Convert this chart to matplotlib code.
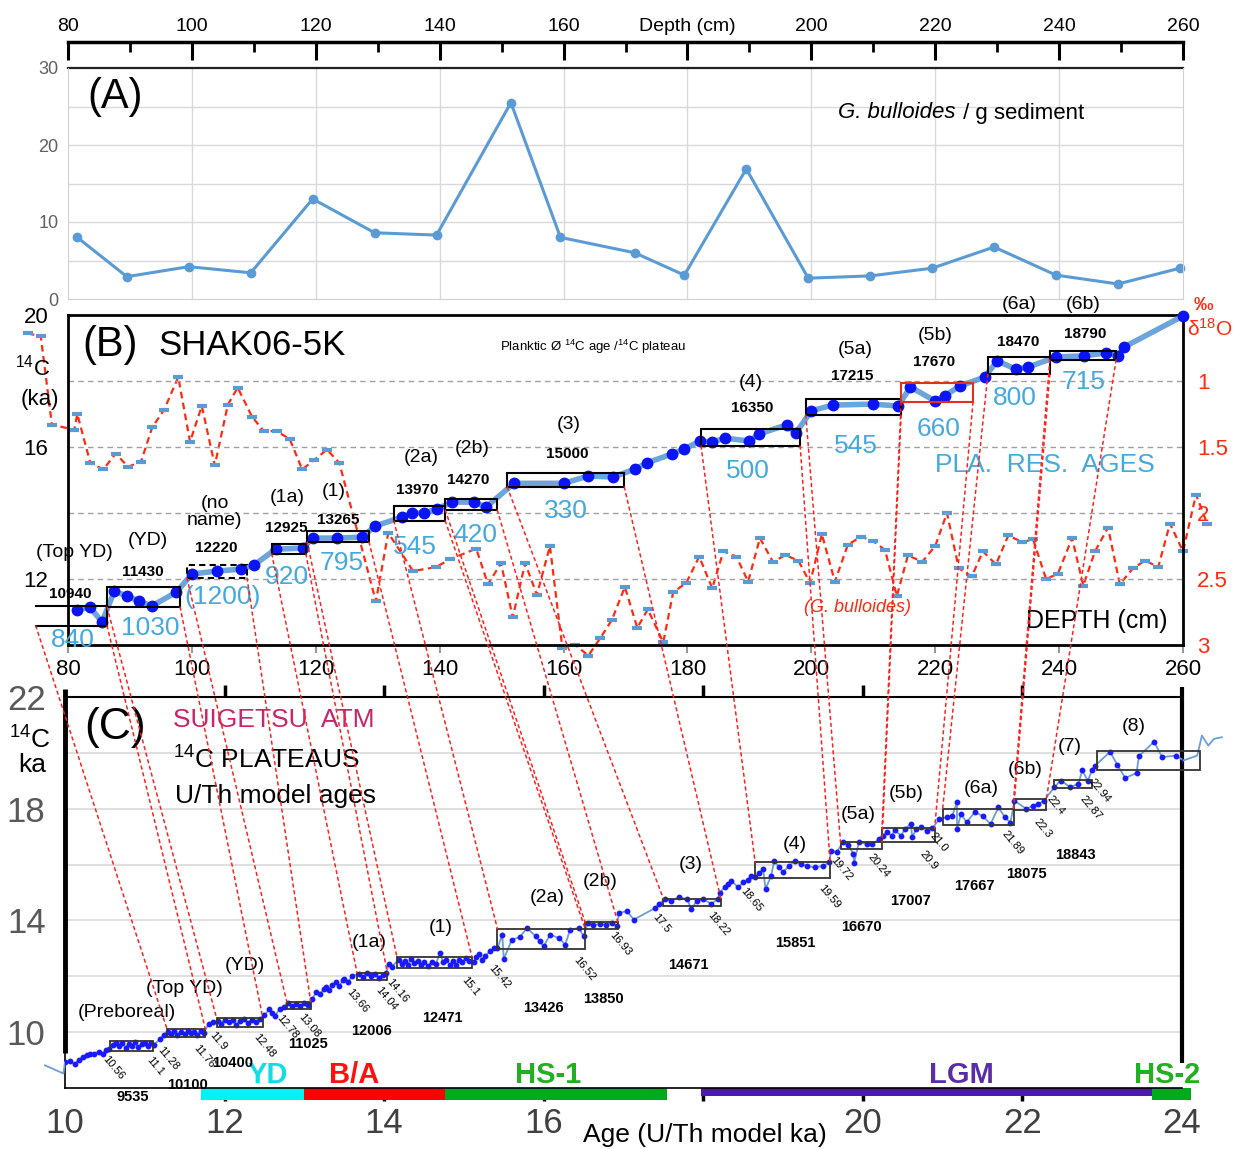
import matplotlib
matplotlib.use('Agg')
import matplotlib.pyplot as plt
from matplotlib.patches import Rectangle, ConnectionPatch
from matplotlib import font_manager

# ---------------- DATA ----------------
# Panel A: G. bulloides / g sediment vs depth
a_depth = [81.5, 89.5, 99.5, 109.5, 119.5, 129.5, 139.5, 151.5, 159.5, 171.5,
           179.5, 189.5, 199.5, 209.5, 219.5, 229.5, 239.5, 249.5, 259.5]
a_count = [8.0, 2.9, 4.2, 3.4, 13.0, 8.6, 8.3, 25.5, 8.0, 6.0,
           3.1, 16.9, 2.7, 3.0, 4.0, 6.75, 3.1, 1.95, 4.0]

# Panel B: planktic 14C ages (ka) vs depth (cm)
planktic_depth = [81.5, 83.5, 85.5, 87.5, 89.5, 91.5, 93.5, 97.5,
                  100.0, 104.0, 108.0, 110.0,
                  113.5, 118.0, 119.5, 123.5, 127.5, 129.5,
                  134.0, 135.5, 137.5, 139.5, 142.0, 145.5, 147.5,
                  152.0, 160.0, 164.0, 168.0, 171.5, 173.5, 177.5, 179.5,
                  182.0, 184.0, 186.0, 190.0, 191.5, 196.0, 197.5,
                  200.0, 203.5, 210.0, 214.0, 216.0, 220.0, 221.5, 224.0,
                  228.0, 230.0, 233.0, 235.0, 239.5, 244.0, 247.5, 249.5, 250.5, 260.0]
planktic_c14 = [11.06, 11.15, 10.70, 11.64, 11.48, 11.33, 11.18, 11.60,
                12.15, 12.24, 12.30, 12.42,
                12.90, 12.94, 13.24, 13.24, 13.27, 13.60,
                13.88, 14.00, 14.00, 14.12, 14.33, 14.33, 14.18,
                14.90, 14.90, 15.12, 15.09, 15.33, 15.52, 15.79, 15.94,
                16.18, 16.15, 16.27, 16.18, 16.39, 16.67, 16.42,
                17.10, 17.27, 17.30, 17.24, 17.82, 17.39, 17.55, 17.85,
                18.12, 18.61, 18.36, 18.42, 18.73, 18.76, 18.85, 18.76, 19.03, 19.97]

# Panel B: d18O (G. bulloides, permil) vs depth
d18_depth = [73.5, 75.6, 77.4, 81.0, 81.5, 83.6, 85.7, 87.7, 89.7, 91.8,
             93.6, 95.5, 97.8, 99.7, 101.6, 103.7, 105.8, 107.4, 109.7, 111.6,
             113.7, 115.8, 117.8, 119.7, 121.8, 123.8, 129.7, 131.7, 135.7, 139.4,
             141.7, 145.9, 147.8, 149.9, 151.8, 153.8, 155.7, 157.8, 159.8, 161.9,
             164.0, 165.9, 167.8, 169.9, 171.9, 173.6, 176.1, 177.7, 179.8, 181.9,
             184.0, 185.8, 187.9, 189.8, 191.7, 193.8, 195.8, 197.9, 199.8, 201.7,
             203.8, 205.9, 208.0, 209.9, 211.9, 213.8, 215.6, 217.9, 220.0, 221.9,
             223.8, 225.9, 227.7, 229.8, 231.8, 234.0, 235.8, 237.9, 239.8, 242.1,
             243.9, 245.8, 247.9, 249.8, 251.9, 253.9, 256.0, 257.9, 260.0, 262.1,
             263.9]
d18_val = [0.64, 0.66, 1.33, 1.37, 1.25, 1.62, 1.67, 1.55, 1.65, 1.61,
           1.35, 1.22, 0.97, 1.46, 1.19, 1.64, 1.18, 1.05, 1.27, 1.38,
           1.38, 1.44, 1.67, 1.60, 1.52, 1.62, 2.67, 2.15, 2.44, 2.41,
           2.35, 2.27, 2.54, 2.38, 2.79, 2.38, 2.62, 2.25, 3.02, 3.00,
           3.08, 2.95, 2.81, 2.56, 2.87, 2.73, 2.98, 2.60, 2.53, 2.33,
           2.57, 2.29, 2.33, 2.52, 2.19, 2.37, 2.32, 2.36, 2.53, 2.16,
           2.52, 2.24, 2.18, 2.21, 2.28, 2.63, 2.32, 2.37, 2.25, 2.00,
           2.42, 2.48, 2.29, 2.39, 2.17, 2.22, 2.20, 2.50, 2.46, 2.19,
           2.55, 2.29, 2.11, 2.54, 2.42, 2.36, 2.41, 2.08, 2.29, 1.86,
           2.08]

# Panel B plateau boxes (depth range, 14C range)
bbox_names = ['(Top YD)', '(YD)', '(no\nname)', '(1a)', '(1)', '(2a)', '(2b)', '(3)', '(4)',
              '(5a)', '(5b)', '(6a)', '(6b)']
bbox_ages = ['10940', '11430', '12220', '12925', '13265', '13970', '14270', '15000', '16350',
             '17215', '17670', '18470', '18790']
bbox_res = ['840', '1030', '(1200)', '920', '795', '545', '420', '330', '500',
            '545', '660', '800', '715']
bbox_d0 = [74.8, 86.3, 99.2, 112.9, 118.6, 132.6, 140.9, 150.9, 182.2, 199.1, 214.5, 228.5, 238.5]
bbox_d1 = [86.3, 98.1, 108.9, 118.4, 128.6, 140.9, 149.3, 169.8, 198.2, 214.5, 226.1, 238.5, 249.2]
bbox_lo = [10.58, 11.15, 12.03, 12.76, 13.12, 13.76, 14.09, 14.79, 16.03, 16.97, 17.36, 18.21, 18.64]
bbox_hi = [11.18, 11.76, 12.42, 13.06, 13.45, 14.20, 14.42, 15.21, 16.55, 17.45, 17.94, 18.73, 18.91]

# Panel C: Suigetsu atmospheric 14C (ka) vs U/Th model age (ka)
suig_age = [9.75, 9.98, 10.00, 10.06, 10.12, 10.18, 10.23, 10.27, 10.31, 10.36, 10.42, 10.48, 10.52, 10.55,
            10.60, 10.64, 10.68, 10.72, 10.76, 10.80, 10.84, 10.88, 10.92, 10.96, 11.00, 11.04, 11.08, 11.12,
            11.19, 11.24,
            11.29, 11.33, 11.37, 11.41, 11.45, 11.50, 11.54, 11.58, 11.62, 11.66, 11.70, 11.74,
            11.80, 11.86,
            11.92, 11.96, 12.00, 12.05, 12.10, 12.14, 12.19, 12.24, 12.29, 12.34, 12.39, 12.44,
            12.50, 12.56, 12.60, 12.63, 12.69, 12.74,
            12.80, 12.85, 12.90, 12.95, 13.00, 13.05,
            13.10, 13.15, 13.20, 13.24, 13.27, 13.31, 13.35, 13.40, 13.44, 13.48, 13.50, 13.55, 13.60,
            13.68, 13.73, 13.78, 13.83, 13.88, 13.93, 13.98, 14.02,
            14.06, 14.10,
            14.18, 14.22, 14.26, 14.30, 14.34, 14.38, 14.42, 14.46, 14.50, 14.55, 14.60, 14.65, 14.70,
            14.74, 14.78, 14.82, 14.86, 14.90, 14.94, 14.98, 15.02, 15.06,
            15.12, 15.15, 15.19, 15.23, 15.27, 15.33, 15.38,
            15.42, 15.48, 15.50, 15.60, 15.70, 15.79, 15.90, 15.95, 16.00, 16.08, 16.19, 16.27, 16.33, 16.44, 16.50,
            16.55, 16.62, 16.70, 16.78, 16.86, 16.92,
            16.94, 17.04, 17.13, 17.40, 17.45,
            17.52, 17.60, 17.70, 17.80, 17.85, 17.92, 18.00, 18.10, 18.18,
            18.21, 18.27, 18.31, 18.35, 18.44, 18.50, 18.56, 18.60,
            18.65, 18.70, 18.75, 18.78, 18.85, 18.89, 18.95, 19.00, 19.08, 19.15, 19.22, 19.30, 19.40, 19.50, 19.58,
            19.60, 19.67,
            19.75, 19.82, 19.88, 19.89, 19.95, 20.05, 20.12, 20.20,
            20.25, 20.30, 20.36, 20.40, 20.48, 20.53, 20.60, 20.62, 20.67, 20.73, 20.80, 20.87,
            20.96, 21.05, 21.12, 21.18, 21.18, 21.23, 21.30, 21.40, 21.50, 21.60, 21.70, 21.78, 21.85,
            21.90, 22.05, 22.13, 22.20, 22.27,
            22.40, 22.48, 22.60, 22.70, 22.75, 22.82, 22.87,
            22.91, 23.10, 23.19, 23.29, 23.43, 23.46, 23.65, 23.75, 23.92, 24.02, 24.19, 24.25, 24.33, 24.40, 24.50]
suig_c14 = [8.81, 8.52, 8.93, 8.95, 8.87, 9.02, 9.11, 9.18, 9.23, 9.20, 9.29, 9.21, 9.35, 9.41,
            9.55, 9.62, 9.50, 9.60, 9.45, 9.58, 9.52, 9.64, 9.47, 9.57, 9.60, 9.50, 9.62, 9.55,
            9.76, 9.90,
            10.02, 9.95, 10.05, 9.90, 10.00, 9.93, 10.04, 9.97, 10.00, 9.90, 10.03, 9.96,
            10.30, 10.36,
            10.40, 10.30, 10.45, 10.35, 10.42, 10.25, 10.40, 10.47, 10.33, 10.44, 10.38, 10.46,
            10.60, 10.82, 10.70, 10.58, 10.82, 10.90,
            11.05, 10.95, 11.02, 10.92, 11.05, 10.97,
            11.20, 11.42, 11.35, 11.55, 11.60, 11.50, 11.70, 11.78, 11.65, 11.85, 11.90, 11.80, 12.02,
            12.08, 11.98, 12.10, 12.00, 12.08, 11.95, 12.06, 12.10,
            12.43, 12.35,
            12.60, 12.45, 12.55, 12.40, 12.62, 12.48, 12.55, 12.42, 12.50, 12.38, 12.52, 12.45, 12.85,
            12.50, 12.60, 12.42, 12.55, 12.40, 12.60, 12.50, 12.65, 12.55,
            12.50, 12.70, 12.80, 12.60, 12.74, 12.90, 13.00,
            13.00, 13.49, 12.62, 13.31, 13.40, 13.73, 13.43, 13.25, 13.07, 13.49, 13.37, 13.13, 13.67, 13.73, 13.43,
            13.91, 13.82, 13.88, 13.85, 13.91, 13.80,
            14.27, 14.33, 14.03, 14.45, 14.60,
            14.77, 14.70, 14.84, 14.75, 14.41, 14.70, 14.75, 14.60, 14.75,
            15.00, 15.20, 15.30, 15.42, 15.18, 15.36, 15.45, 15.60,
            15.54, 15.70, 15.84, 15.12, 15.60, 16.14, 15.90, 15.74, 15.95, 16.14, 16.02, 15.95, 15.90, 15.95, 16.08,
            16.50, 16.44,
            16.80, 16.70, 16.38, 16.06, 16.80, 16.74, 16.75, 16.90,
            17.04, 17.16, 17.04, 17.22, 17.04, 17.28, 17.46, 16.98, 17.28, 17.34, 17.20, 17.30,
            17.63, 17.69, 17.75, 18.23, 17.27, 17.81, 17.51, 17.87, 17.75, 17.45, 18.05, 17.69, 17.50,
            18.29, 17.99, 18.11, 18.17, 18.29,
            18.77, 19.01, 18.77, 18.89, 19.37, 19.00, 19.37,
            19.54, 20.04, 19.56, 19.10, 19.28, 19.88, 20.40, 19.85, 19.90, 19.73, 19.90, 20.62, 20.26, 20.50, 20.56]

# Panel C plateau boxes (age range, 14C range)
cbox_names = ['(Preboreal)', '(Top YD)', '(YD)', '', '(1a)', '(1)', '(2a)', '(2b)', '(3)', '(4)',
              '(5a)', '(5b)', '(6a)', '(6b)', '(7)', '(8)']
cbox_a0 = [10.56, 11.28, 11.90, 12.78, 13.66, 14.16, 15.42, 16.52, 17.50, 18.65, 19.72, 20.24, 21.00, 21.89, 22.40, 22.94]
cbox_a1 = [11.10, 11.76, 12.48, 13.08, 14.04, 15.10, 16.52, 16.93, 18.22, 19.59, 20.24, 20.90, 21.89, 22.30, 22.87, 24.22]
cbox_lo = [9.31, 9.82, 10.18, 10.83, 11.86, 12.30, 12.98, 13.71, 14.53, 15.53, 16.55, 16.80, 17.42, 17.95, 18.75, 19.40]
cbox_hi = [9.68, 10.10, 10.50, 11.08, 12.13, 12.70, 13.70, 13.93, 14.78, 16.08, 16.80, 17.30, 18.00, 18.35, 19.04, 20.07]
cbox_ages = ['9535', '10100', '10400', '11025', '12006', '12471', '13426', '13850', '14671', '15851',
             '16670', '17007', '17667', '18075', '18843']
edge_labels = ['10.56', '11.1', '11.28', '11.76', '11.9', '12.48', '12.78', '13.08', '13.66', '14.04',
               '14.16', '15.1', '15.42', '16.52', '16.93', '17.5', '18.22', '18.65', '19.59', '19.72',
               '20.24', '20.9', '21.0', '21.89', '22.3', '22.4', '22.87', '22.94']

# Climate periods
period_names = ['YD', 'B/A', 'HS-1', 'LGM', 'HS-2']
period_start = [11.71, 13.00, 14.76, 17.97, 23.62]
period_end = [13.00, 14.76, 17.54, 23.62, 24.11]

# ---------------- LAYOUT / STYLE ----------------
avail = {f.name for f in font_manager.fontManager.ttflist}
NARROW = 'Liberation Sans Narrow' if 'Liberation Sans Narrow' in avail else 'Liberation Sans'
plt.rcParams['font.family'] = ['Liberation Sans', 'DejaVu Sans']
plt.rcParams['mathtext.default'] = 'regular'

W, H = 1242, 1149
fig = plt.figure(figsize=(W / 100, H / 100), dpi=100)


def fx(x):
    return x / W


def fy(y):
    return 1 - y / H


def ftext(x, y, s, **kw):
    kw.setdefault('ha', 'center')
    kw.setdefault('va', 'center')
    fig.text(fx(x), fy(y), s, **kw)


STEEL = '#5B9BD5'
RESBLUE = '#45A9DE'
RED = '#FF2A10'

# ---------- Panel A ----------
axA = fig.add_axes([fx(68), fy(299), fx(1183) - fx(68), fy(68) - fy(299)])
axA.set_xlim(80, 260)
axA.set_ylim(0, 30)
for v in range(5, 30, 5):
    axA.axhline(v, color='#D9D9D9', lw=1, zorder=0)
for d in range(100, 260, 20):
    axA.axvline(d, color='#D9D9D9', lw=1, zorder=0)
for s in ['left', 'right', 'bottom']:
    axA.spines[s].set_color('#D0D0D0')
axA.spines['top'].set_position(('outward', 19))
axA.spines['top'].set_linewidth(2.5)
axA.axhline(30, color='#222222', lw=1.6, clip_on=False)
axA.xaxis.set_ticks_position('top')
axA.set_xticks(range(80, 261, 20))
axA.set_xticklabels(['80', '100', '120', '140', '160', 'Depth (cm)', '200', '220', '240', '260'],
                    family=NARROW, fontsize=14)
axA.set_xticks(range(90, 260, 20), minor=True)
axA.tick_params(axis='x', which='major', direction='in', length=13, width=2.2, pad=5)
axA.tick_params(axis='x', which='minor', direction='in', length=7, width=2)
axA.set_yticks([0, 10, 20, 30])
axA.set_yticklabels(['0', '10', '20', '30'], family=NARROW, fontsize=13, color='#606060')
axA.tick_params(axis='y', length=0, pad=7)
axA.plot(a_depth, a_count, color=STEEL, lw=2.2, marker='o', ms=6, clip_on=False)
ftext(115, 97, '(A)', fontsize=30)
ftext(955, 113, 'G. bulloides', family=NARROW, style='italic', fontsize=16, ha='right')
ftext(957, 113, ' / g sediment', family=NARROW, fontsize=16, ha='left')

# ---------- Panel B ----------
axB = fig.add_axes([fx(68), fy(645), fx(1183) - fx(68), fy(315) - fy(645)])
axB2 = axB.twinx()
axB.set_zorder(axB2.get_zorder() + 1)
axB.patch.set_visible(False)
axB.set_xlim(80, 260)
axB.set_ylim(10, 20)
for s in axB.spines.values():
    s.set_linewidth(2)
for s in axB2.spines.values():
    s.set_visible(False)
for v in [12, 14, 16, 18]:
    axB.axhline(v, color='#A0A0A0', ls=(0, (4, 3)), lw=1, zorder=0)
axB.set_xticks(range(80, 261, 20))
axB.tick_params(axis='x', direction='out', length=6, width=1.5, color='#999999', labelsize=16, pad=4)
axB.set_yticks([12, 16, 20])
axB.tick_params(axis='y', length=0, labelsize=16, pad=14)

axB2.set_ylim(3.0, 0.5)
axB2.set_yticks([1, 1.5, 2, 2.5, 3])
axB2.set_yticklabels(['1', '1.5', '2', '2.5', '3'])
axB2.tick_params(axis='y', length=0, labelsize=16, labelcolor=RED, pad=10)
axB2.plot(d18_depth, d18_val, color=RED, ls=(0, (3, 2)), lw=1.6, marker='_', ms=7, mew=3,
          mec=STEEL, clip_on=False)

axB.plot(planktic_depth, planktic_c14, color=STEEL, lw=4, alpha=0.9, zorder=3, clip_on=False)
axB.plot(planktic_depth, planktic_c14, 'o', color='#0A14F5', ms=7.5, zorder=4, clip_on=False)

for i in range(len(bbox_d0)):
    d0, d1, lo, hi = bbox_d0[i], bbox_d1[i], bbox_lo[i], bbox_hi[i]
    if i == 0:
        axB.plot([d0, d1], [lo, lo], color='black', lw=1.5, clip_on=False, zorder=5)
        axB.plot([d0, d1], [hi, hi], color='black', lw=1.5, clip_on=False, zorder=5)
        axB.plot([d1, d1], [lo, hi], color='black', lw=1.5, clip_on=False, zorder=5)
        continue
    ec = '#E0301E' if i == 10 else 'black'
    ls = (0, (3, 2)) if i == 2 else '-'
    axB.add_patch(Rectangle((d0, lo), d1 - d0, hi - lo, fill=False, ec=ec, lw=1.5, ls=ls, zorder=5))

b_name_pos = [(81.1, 12.79), (92.9, 13.18), (103.7, 14.03), (115.4, 14.48), (122.9, 14.64),
              (137.0, 15.67), (145.2, 15.94), (160.9, 16.67), (190.3, 17.94), (207.1, 18.94),
              (220.0, 19.39), (233.5, 20.33), (243.9, 20.33)]
b_age_pos = [(80.3, 11.55), (92.1, 12.21), (103.9, 12.94), (115.2, 13.55), (123.6, 13.79),
             (136.3, 14.70), (144.6, 15.00), (160.6, 15.79), (190.4, 17.18), (206.6, 18.15),
             (219.8, 18.58), (233.4, 19.18), (244.2, 19.42)]
b_res_pos = [(80.8, 10.15), (93.2, 10.52), (104.9, 11.45), (115.4, 12.06), (124.2, 12.48),
             (136.0, 12.97), (145.7, 13.33), (160.4, 14.06), (189.8, 15.27), (207.2, 16.03),
             (220.6, 16.55), (232.9, 17.48), (244.0, 17.97)]
for i in range(len(bbox_names)):
    axB.text(*b_name_pos[i], bbox_names[i], fontsize=14, ha='center', va='center', zorder=6,
             linespacing=1.0)
    axB.text(*b_age_pos[i], bbox_ages[i], fontsize=11, fontweight='bold', ha='center', va='center', zorder=6)
    axB.text(*b_res_pos[i], bbox_res[i], fontsize=19, color=RESBLUE, ha='center', va='center', zorder=6)
axB.text(237.7, 15.45, 'PLA.  RES.  AGES', fontsize=19, color=RESBLUE, ha='center', va='center')
axB.text(246.0, 10.72, 'DEPTH (cm)', fontsize=18, ha='center', va='center')
axB.text(207.5, 11.15, '(G. bulloides)', fontsize=13, color=RED, style='italic', ha='center', va='center')
ftext(82, 345, '(B)', fontsize=30, ha='left')
ftext(158, 345, 'SHAK06-5K', fontsize=25, ha='left')
ftext(593, 347, r'Planktic Ø $^{14}$C age /$^{14}$C plateau', fontsize=9.5)
ftext(33, 368, r'$^{14}$C', fontsize=16)
ftext(40, 400, '(ka)', fontsize=16)
ftext(1203, 306, '‰', fontsize=14, color=RED, fontweight='bold')
ftext(1210, 329, r'δ$^{18}$O', fontsize=15, color=RED)

# ---------- Panel C ----------
axC = fig.add_axes([fx(65), fy(1088), fx(1182) - fx(65), fy(697) - fy(1088)])
axC.set_xlim(10, 24)
axC.set_ylim(8, 22)
axC.spines['left'].set_visible(False)
axC.spines['right'].set_visible(False)
axC.spines['top'].set_linewidth(1.5)
axC.spines['bottom'].set_linewidth(1.2)
for v in range(10, 22, 2):
    axC.axhline(v, color='#DADADA', lw=1.2, zorder=0)
axC.set_xticks(range(10, 25, 2))
axC.set_xticklabels(['10', '12', '14', '16', '', '20', '22', '24'], family=NARROW)
axC.tick_params(axis='x', which='both', direction='out', length=9, width=2.5, labelsize=25,
                labelcolor='#404040', pad=5, top=True, labeltop=False)
for t in (axC.xaxis.get_major_ticks()[0], axC.xaxis.get_major_ticks()[-1]):
    t.tick1line.set_visible(False)
    t.tick2line.set_visible(False)
axC.set_yticks([10, 14, 18, 22])
axC.set_yticklabels(['10', '14', '18', '22'], family=NARROW)
axC.tick_params(axis='y', length=0, labelsize=25, labelcolor='#595959', pad=14)

axC.plot([10, 10], [9.25, 22.3], color='black', lw=3.5, clip_on=False, solid_capstyle='butt')
axC.plot([10, 10], [8, 9.25], color='black', lw=1.2, clip_on=False)
axC.plot([24, 24], [8.88, 22.37], color='black', lw=3, clip_on=False, solid_capstyle='butt')

axC.plot(suig_age, suig_c14, color='#6A9FD4', lw=1.3, zorder=3, clip_on=False)
dot_a = [a for a in suig_age if 10 <= a <= 24.1]
dot_c = [c for a, c in zip(suig_age, suig_c14) if 10 <= a <= 24.1]
axC.plot(dot_a, dot_c, 'o', color='#1A1AFF', ms=3.2, zorder=4)

for i in range(len(cbox_a0)):
    axC.add_patch(Rectangle((cbox_a0[i], cbox_lo[i]), cbox_a1[i] - cbox_a0[i], cbox_hi[i] - cbox_lo[i],
                            fill=False, ec='#333333', lw=1.3, zorder=5, clip_on=False))

c_name_pos = [(10.77, 10.72), (11.50, 11.58), (12.25, 12.37), None, (13.81, 13.20), (14.71, 13.74),
              (16.05, 14.82), (16.71, 15.40), (17.84, 16.00), (19.15, 16.73), (19.94, 17.80),
              (20.54, 18.53), (21.48, 18.71), (22.04, 19.42), (22.59, 20.22), (23.39, 20.94)]
for i, p in enumerate(c_name_pos):
    if p is not None:
        axC.text(*p, cbox_names[i], fontsize=14, ha='center', va='center')
c_age_pos = [(10.85, 7.66), (11.54, 8.09), (12.10, 8.88), (13.05, 9.56), (13.84, 10.03), (14.73, 10.50),
             (16.00, 10.86), (16.75, 11.19), (17.81, 12.41), (19.15, 13.20), (19.98, 13.78),
             (20.60, 14.71), (21.40, 15.22), (22.05, 15.65), (22.66, 16.33)]
for i, p in enumerate(c_age_pos):
    axC.text(*p, cbox_ages[i], fontsize=10.5, fontweight='bold', ha='center', va='center', zorder=6)
edge_pos = [(10.54, 9.24), (11.09, 9.17), (11.23, 9.53), (11.68, 9.60), (11.88, 10.07), (12.43, 10.02),
            (12.72, 10.68), (13.00, 10.72), (13.60, 11.62), (13.96, 11.69), (14.10, 11.98), (15.04, 12.05),
            (15.38, 12.48), (16.44, 12.77), (16.89, 13.67), (17.44, 14.32), (18.13, 14.39), (18.54, 15.22),
            (19.52, 15.36), (19.66, 16.33), (20.13, 16.44), (20.79, 16.55), (20.91, 17.19), (21.81, 17.27),
            (22.22, 17.70), (22.38, 18.53), (22.79, 18.53), (22.90, 19.14)]
for s, p in zip(edge_labels, edge_pos):
    axC.text(*p, s, fontsize=8, rotation=-50, rotation_mode='anchor', ha='left', va='top', zorder=6)

bar_colors = ['#00F2F2', '#FF0000', '#00AA1E', '#4B1AA6', '#00AA1E']
bar_text_colors = ['#10DDE8', '#FF1010', '#20B020', '#5A2DA8', '#20B020']
bar_label_x = [12.54, 13.63, 16.06, 21.23, 23.81]
for i in range(len(period_names)):
    h = 0.30 if period_names[i] == 'LGM' else 0.43
    axC.add_patch(Rectangle((period_start[i], 8.0 - h), period_end[i] - period_start[i], h,
                            color=bar_colors[i], clip_on=False, zorder=2, lw=0))
    axC.text(bar_label_x[i], 8.47, period_names[i], fontsize=21, fontweight='bold', family=NARROW,
             color=bar_text_colors[i], ha='center', va='center')

ftext(705, 1135, 'Age (U/Th model ka)', fontsize=19, family=NARROW)
ftext(115, 728, '(C)', fontsize=32)
ftext(173, 720, 'SUIGETSU  ATM', fontsize=19, color='#C8256A', ha='left')
ftext(173, 760, r'$^{14}$C PLATEAUS', fontsize=19, ha='left')
ftext(175, 796, 'U/Th model ages', fontsize=19, ha='left')
ftext(30, 740, r'$^{14}$C', fontsize=19)
ftext(32, 765, 'ka', fontsize=19)

# ---------- connectors between B and C plateaus ----------
for i in range(len(bbox_d0)):
    for bd, ca in ((bbox_d0[i], cbox_a0[i + 1]), (bbox_d1[i], cbox_a1[i + 1])):
        con = ConnectionPatch(xyA=(bd, bbox_lo[i]), coordsA=axB.transData,
                              xyB=(ca, cbox_hi[i + 1]), coordsB=axC.transData,
                              color='#FF2020', lw=1.1, ls=(0, (2, 2.5)), zorder=10)
        fig.add_artist(con)

fig.savefig('out.png', dpi=100)
